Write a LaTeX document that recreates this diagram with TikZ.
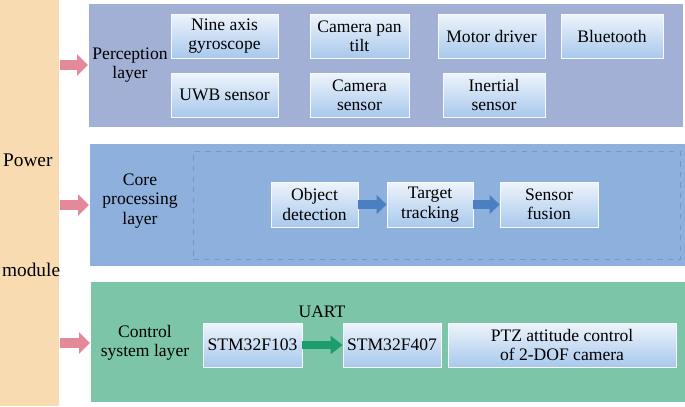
\documentclass[tikz,border=0pt]{standalone}
\usepackage{fontspec}
\setmainfont{Liberation Serif}
\usetikzlibrary{arrows.meta}
\definecolor{powerfill}{HTML}{F9DBB2}
\definecolor{percepfill}{HTML}{A2B0D6}
\definecolor{corefill}{HTML}{8DB0DD}
\definecolor{ctrlfill}{HTML}{7DC5A9}
\definecolor{pinkarrow}{HTML}{E4899A}
\definecolor{bluearrow}{HTML}{4C7FC2}
\definecolor{greenarrow}{HTML}{1C9D6B}
\definecolor{unittop}{HTML}{EEF4FB}
\definecolor{unitbottom}{HTML}{A8C8EC}
\tikzset{every node/.style={font=\fontsize{10}{11}\selectfont,inner sep=1pt,align=center}}
\tikzset{unit/.style={rectangle,draw=white!90!unitbottom,line width=0.4pt,top color=unittop,bottom color=unitbottom,minimum height=0.88cm}}
\tikzset{layer/.style={rectangle,draw=white,line width=0.6pt,anchor=north west}}
\tikzset{feed/.style={draw=pinkarrow,line width=5.7pt,-{Triangle[length=6.2pt,width=12pt]}}}
\tikzset{flow/.style={line width=5pt,-{Triangle[length=5.7pt,width=10.5pt]}}}
\newcommand{\unitbox}[4][]{\node[unit,#1] at (#2) (#3) {#4}}

\begin{document}
\begin{tikzpicture}[x=0.02cm,y=-0.02cm]
  \useasboundingbox (0,0) rectangle (685,406);

  \node[rectangle,fill=powerfill,anchor=north west,minimum width=1.18cm,minimum height=8.12cm] at (0,0) (power) {};
  \node[font=\fontsize{11}{13}\selectfont,anchor=west] at (1,160) (powertxt) {Power};
  \node[font=\fontsize{11}{13}\selectfont,anchor=west] at (0,270) (moduletxt) {module};

  \node[layer,fill=percepfill,minimum width=11.9cm,minimum height=2.48cm] at (88,3) (percep) {};
  \node[layer,fill=corefill,minimum width=11.92cm,minimum height=2.46cm] at (89,143) (core) {};
  \node[layer,fill=ctrlfill,minimum width=11.9cm,minimum height=2.42cm] at (90,281) (ctrl) {};
  \node[rectangle,draw=bluearrow!80,dashed,line width=0.5pt,anchor=north west,minimum width=9.74cm,minimum height=2.16cm] at (193,151) (frame) {};

  \node at (130,65) (percepname) {Perception\\layer};
  \node at (140,201) (corename) {Core\\processing\\layer};
  \node at (145,343) (ctrlname) {Control\\system layer};

  \unitbox[minimum width=2.14cm]{224.5,36}{gyro}{Nine axis\\gyroscope};
  \unitbox[minimum width=1.98cm]{359.5,36}{pantilt}{Camera pan\\tilt};
  \unitbox[minimum width=2.14cm]{491.5,36}{motor}{Motor driver};
  \unitbox[minimum width=2.04cm]{612,36}{bt}{Bluetooth};
  \unitbox[minimum width=2.14cm]{224.5,95}{uwb}{UWB sensor};
  \unitbox[minimum width=1.98cm]{359.5,95}{camsensor}{Camera\\sensor};
  \unitbox[minimum width=2.04cm]{494,95}{inertial}{Inertial\\sensor};

  \unitbox[minimum width=1.74cm,minimum height=0.9cm]{314.5,204.5}{detect}{Object\\detection};
  \unitbox[minimum width=1.72cm,minimum height=0.9cm]{430,204.5}{track}{Target\\tracking};
  \unitbox[minimum width=1.96cm,minimum height=0.9cm]{549,204.5}{fusion}{Sensor\\fusion};

  \unitbox[minimum width=1.98cm]{252.5,345}{fone}{STM32F103};
  \unitbox[minimum width=1.96cm]{392,345}{ffour}{STM32F407};
  \unitbox[minimum width=4.56cm]{562,345}{ptz}{PTZ attitude control\\of 2-DOF camera};
  \node at (322,312) (uart) {UART};

  \draw[feed] (power.east |- percepname) -- (percep.west |- percepname);
  \draw[feed] (power.east |- 0,205) -- (core.west |- 0,205);
  \draw[feed] (power.east |- 0,343) -- (ctrl.west |- 0,343);
  \draw[flow,draw=bluearrow] (detect) -- (track);
  \draw[flow,draw=bluearrow] (track) -- (fusion);
  \draw[flow,draw=greenarrow,line width=4.8pt,-{Triangle[length=6.8pt,width=10pt]}] (fone) -- (ffour);
\end{tikzpicture}
\end{document}
